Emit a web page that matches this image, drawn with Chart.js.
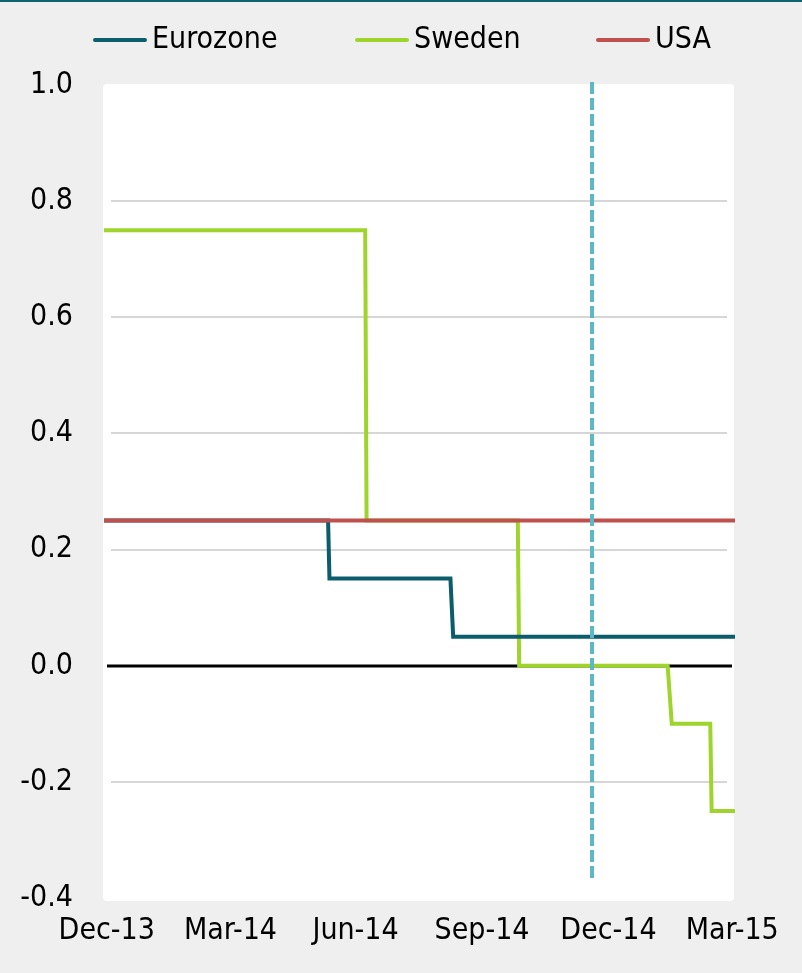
<!DOCTYPE html>
<html>
<head>
<meta charset="utf-8">
<title>Policy rates</title>
<script src="https://cdn.jsdelivr.net/npm/chart.js@4.4.1/dist/chart.umd.min.js"></script>
<style>
  html, body { margin: 0; padding: 0; background: #efefef; }
  canvas { display: block; }
</style>
</head>
<body>
<canvas id="rates-chart" width="802" height="973"></canvas>
<script>
// Policy rates (%), only the points where a rate changes
const seriesNames = ["Eurozone", "Sweden", "USA"];
const seriesColors = ["#0b5d6b", "#9fd42c", "#c0504d"];

const ezDates = ["2013-12-29", "2014-06-10", "2014-06-11", "2014-09-07", "2014-09-09", "2015-04-02"];
const ezRates = [0.25, 0.25, 0.15, 0.15, 0.05, 0.05];

const seDates = ["2013-12-29", "2014-07-07", "2014-07-08", "2014-10-26", "2014-10-27",
                 "2015-02-12", "2015-02-15", "2015-03-15", "2015-03-16", "2015-04-02"];
const seRates = [0.75, 0.75, 0.25, 0.25, 0.00, 0.00, -0.10, -0.10, -0.25, -0.25];

const usDates = ["2013-12-29", "2015-04-02"];
const usRates = [0.25, 0.25];

// dashed marker line
const markerDate = "2014-12-19";
const markerRange = [1.005, -0.372];

const tickDates = ["2013-12-31", "2014-03-31", "2014-06-30", "2014-09-30", "2014-12-31", "2015-03-31"];
const tickLabels = ["Dec-13", "Mar-14", "Jun-14", "Sep-14", "Dec-14", "Mar-15"];

const FONT = "'DejaVu Sans Condensed', 'Liberation Sans Narrow', sans-serif";
const day0 = Date.UTC(2014, 0, 1);
const toDay = (s) => (Date.parse(s) - day0) / 864e5;
const points = (dates, vals) => dates.map((d, i) => ({ x: toDay(d), y: vals[i] }));

Chart.defaults.font.family = FONT;
Chart.defaults.font.size = 30;
Chart.defaults.color = "#000";

const panelBg = {
  id: "panelBg",
  beforeDraw(chart) {
    const { ctx, chartArea: a } = chart;
    ctx.save();
    ctx.fillStyle = "#efefef";
    ctx.fillRect(0, 0, chart.width, chart.height);
    ctx.fillStyle = "#0f6470";
    ctx.fillRect(0, 0, chart.width, 2);
    ctx.fillStyle = "#fff";
    ctx.beginPath();
    ctx.roundRect(a.left - 1, a.top - 1, a.right - a.left, a.bottom - a.top + 4, 4);
    ctx.fill();
    ctx.restore();
  },
};

// horizontal grid, inset from the panel edges; zero line in black
const gridLines = {
  id: "gridLines",
  beforeDatasetsDraw(chart) {
    const { ctx, chartArea: a, scales: { y } } = chart;
    ctx.save();
    y.ticks.forEach((t) => {
      if (t.value <= y.min || t.value >= y.max) return;
      const py = Math.round(y.getPixelForValue(t.value));
      ctx.beginPath();
      if (Math.abs(t.value) < 1e-9) {
        ctx.strokeStyle = "#000";
        ctx.lineWidth = 3;
        ctx.moveTo(a.left + 3, py);
        ctx.lineTo(a.right - 3, py);
      } else {
        ctx.strokeStyle = "#d6d6d6";
        ctx.lineWidth = 2;
        ctx.moveTo(a.left + 7, py);
        ctx.lineTo(a.right - 8, py);
      }
      ctx.stroke();
    });
    ctx.restore();
  },
};

// legend row above the panel
const legendX = [93, 355, 596];
const topLegend = {
  id: "topLegend",
  afterDraw(chart) {
    const { ctx } = chart;
    ctx.save();
    ctx.font = `30px ${FONT}`;
    ctx.textBaseline = "middle";
    ctx.lineWidth = 4;
    ctx.lineCap = "round";
    const y = 40;
    seriesNames.forEach((name, i) => {
      const x = legendX[i];
      ctx.strokeStyle = seriesColors[i];
      ctx.beginPath();
      ctx.moveTo(x + 2, y);
      ctx.lineTo(x + 52, y);
      ctx.stroke();
      ctx.fillStyle = "#000";
      ctx.fillText(name, x + 59, y);
    });
    ctx.restore();
  },
};

const lineStyle = {
  borderWidth: 4,
  pointRadius: 0,
  tension: 0,
  fill: false,
  borderJoinStyle: "miter",
};

new Chart(document.getElementById("rates-chart"), {
  type: "line",
  data: {
    datasets: [
      { label: seriesNames[0], data: points(ezDates, ezRates), borderColor: seriesColors[0], order: 1, ...lineStyle },
      { label: seriesNames[1], data: points(seDates, seRates), borderColor: seriesColors[1], order: 2, ...lineStyle },
      { label: seriesNames[2], data: points(usDates, usRates), borderColor: seriesColors[2], order: 0, ...lineStyle },
      {
        label: "marker",
        data: markerRange.map((v) => ({ x: toDay(markerDate), y: v })),
        borderColor: "#5ab9c5",
        borderWidth: 4,
        borderDash: [12, 4],
        pointRadius: 0,
        clip: false,
        order: -1,
      },
    ],
  },
  options: {
    responsive: false,
    animation: false,
    events: [],
    layout: { padding: { top: 85, right: 67, bottom: 25, left: 0 } },
    plugins: { legend: { display: false }, tooltip: { enabled: false } },
    scales: {
      x: {
        type: "linear",
        min: toDay(ezDates[0]),
        max: toDay(ezDates[ezDates.length - 1]),
        grid: { display: false, drawTicks: false },
        border: { display: false },
        ticks: { autoSkip: false, maxRotation: 0, padding: 15, callback: (v, i) => tickLabels[i] },
        afterBuildTicks: (s) => { s.ticks = tickDates.map((d) => ({ value: toDay(d) })); },
        afterFit: (s) => { s.height = 50; },
      },
      y: {
        min: -0.4,
        max: 1.0,
        grid: { display: false, drawTicks: false },
        border: { display: false },
        ticks: { stepSize: 0.2, padding: 31, callback: (v) => (Math.abs(v) < 1e-9 ? "0.0" : v.toFixed(1)) },
        afterFit: (s) => { s.width = 104; },
      },
    },
  },
  plugins: [panelBg, gridLines, topLegend],
});
</script>
</body>
</html>
